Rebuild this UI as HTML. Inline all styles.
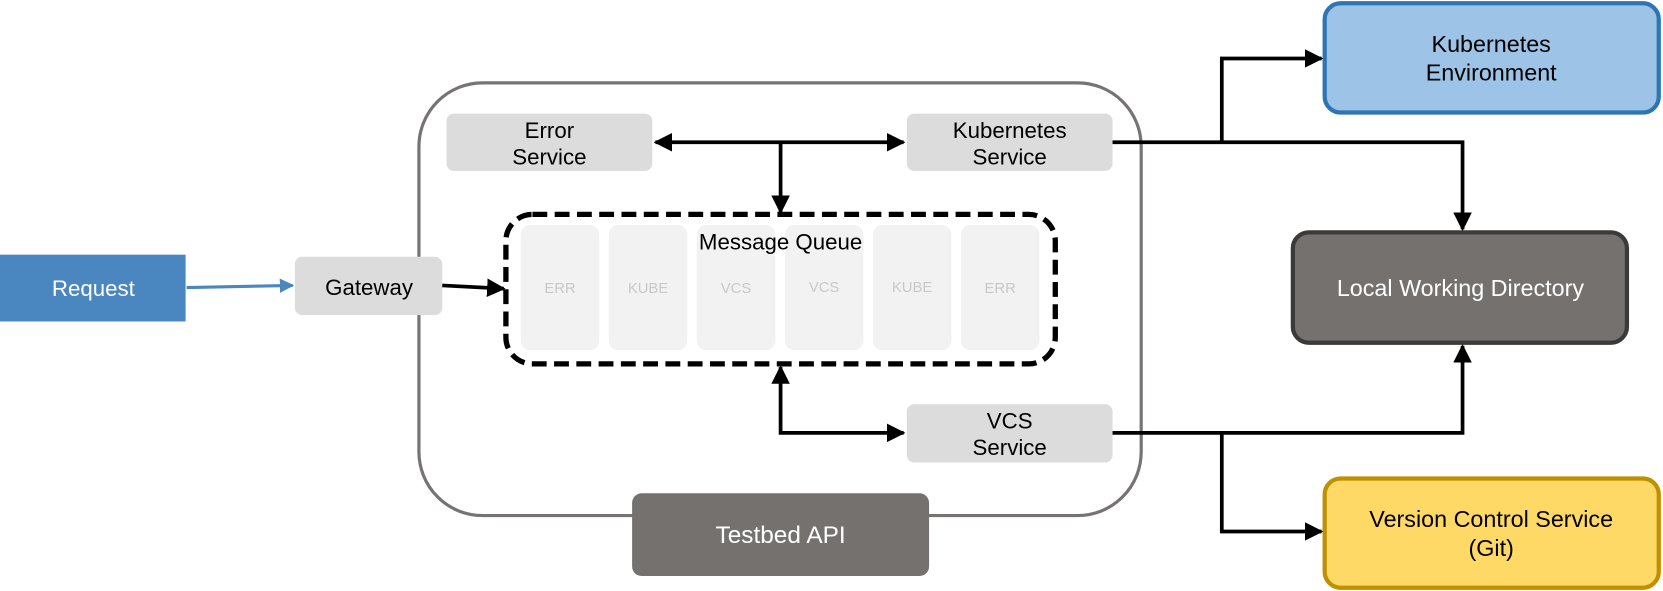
<!DOCTYPE html>
<html><head><style>html,body{margin:0;padding:0;background:#fff}svg{display:block}</style></head>
<body>
<svg width="1663" height="591" viewBox="0 0 1568 557" xmlns="http://www.w3.org/2000/svg" font-family="Liberation Sans, sans-serif">
<defs>
<marker id="a" viewBox="0 0 10 10" refX="9" refY="5" markerWidth="5" markerHeight="5" orient="auto-start-reverse"><path d="M0,0L10,5L0,10z" fill="#000"/></marker>
<marker id="b" viewBox="0 0 10 10" refX="9" refY="5" markerWidth="4.5" markerHeight="4.5" orient="auto"><path d="M0,0L10,5L0,10z" fill="#4a86c0"/></marker>
</defs>
<rect x="0" y="240" width="175" height="63" fill="#4a86c0"/>
<text x="88" y="279" font-size="21" fill="#fff" text-anchor="middle">Request</text>
<line x1="176" y1="271" x2="276" y2="269" stroke="#4a86c0" stroke-width="3" marker-end="url(#b)"/>
<rect x="395" y="78" width="681" height="408" rx="60" fill="none" stroke="#777372" stroke-width="3"/>
<rect x="278" y="242" width="139" height="55" rx="7" fill="#dcdcdc"/>
<text x="348" y="278" font-size="21" text-anchor="middle">Gateway</text>
<line x1="417" y1="269" x2="475" y2="272" stroke="#000" stroke-width="3.5" marker-end="url(#a)"/>
<rect x="421" y="107" width="194" height="54" rx="7" fill="#dcdcdc"/>
<text x="518" y="130" font-size="21" text-anchor="middle">Error</text>
<text x="518" y="155" font-size="21" text-anchor="middle">Service</text>
<rect x="855" y="107" width="194" height="54" rx="7" fill="#dcdcdc"/>
<text x="952" y="130" font-size="21" text-anchor="middle">Kubernetes</text>
<text x="952" y="155" font-size="21" text-anchor="middle">Service</text>
<line x1="618" y1="134" x2="852" y2="134" stroke="#000" stroke-width="3.5" marker-start="url(#a)" marker-end="url(#a)"/>
<line x1="736" y1="134" x2="736" y2="200" stroke="#000" stroke-width="3.5" marker-end="url(#a)"/>
<g fill="#f2f2f2">
<rect x="491" y="212" width="74" height="118" rx="9"/><rect x="574" y="212" width="74" height="118" rx="9"/>
<rect x="657" y="212" width="74" height="118" rx="9"/><rect x="740" y="212" width="74" height="118" rx="9"/>
<rect x="823" y="212" width="74" height="118" rx="9"/><rect x="906" y="212" width="74" height="118" rx="9"/>
</g>
<g font-size="14" fill="#c8c8c8" text-anchor="middle">
<text x="528" y="276">ERR</text><text x="611" y="276">KUBE</text><text x="694" y="276">VCS</text>
<text x="777" y="275">VCS</text><text x="860" y="275">KUBE</text><text x="943" y="276">ERR</text>
</g>
<rect x="477" y="202" width="518" height="141" rx="25" fill="none" stroke="#000" stroke-width="5" stroke-dasharray="14,7"/>
<text x="736" y="235" font-size="21" text-anchor="middle">Message Queue</text>
<rect x="855" y="381" width="194" height="55" rx="7" fill="#dcdcdc"/>
<text x="952" y="404" font-size="21" text-anchor="middle">VCS</text>
<text x="952" y="429" font-size="21" text-anchor="middle">Service</text>
<polyline points="736,346 736,408 852,408" fill="none" stroke="#000" stroke-width="3.5" marker-start="url(#a)" marker-end="url(#a)"/>
<rect x="596" y="465" width="280" height="78" rx="9" fill="#75716f"/>
<text x="736" y="512" font-size="23" fill="#fff" text-anchor="middle">Testbed API</text>
<rect x="1249" y="3" width="315" height="103" rx="15" fill="#9dc3e6" stroke="#2e75b6" stroke-width="4"/>
<text x="1406" y="49" font-size="22" text-anchor="middle">Kubernetes</text>
<text x="1406" y="76" font-size="22" text-anchor="middle">Environment</text>
<rect x="1219" y="219" width="315" height="104" rx="15" fill="#75716f" stroke="#3a3a3a" stroke-width="4"/>
<text x="1377" y="279" font-size="22" fill="#fff" text-anchor="middle">Local Working Directory</text>
<rect x="1249" y="451" width="315" height="103" rx="15" fill="#ffd966" stroke="#bf9000" stroke-width="4"/>
<text x="1406" y="497" font-size="22" text-anchor="middle">Version Control Service</text>
<text x="1406" y="524" font-size="22" text-anchor="middle">(Git)</text>
<polyline points="1049,134 1379,134 1379,216" fill="none" stroke="#000" stroke-width="3.5" marker-end="url(#a)"/>
<polyline points="1152,134 1152,55 1246,55" fill="none" stroke="#000" stroke-width="3.5" marker-end="url(#a)"/>
<polyline points="1049,408 1379,408 1379,326" fill="none" stroke="#000" stroke-width="3.5" marker-end="url(#a)"/>
<polyline points="1152,408 1152,501 1246,501" fill="none" stroke="#000" stroke-width="3.5" marker-end="url(#a)"/>
</svg>
</body></html>
